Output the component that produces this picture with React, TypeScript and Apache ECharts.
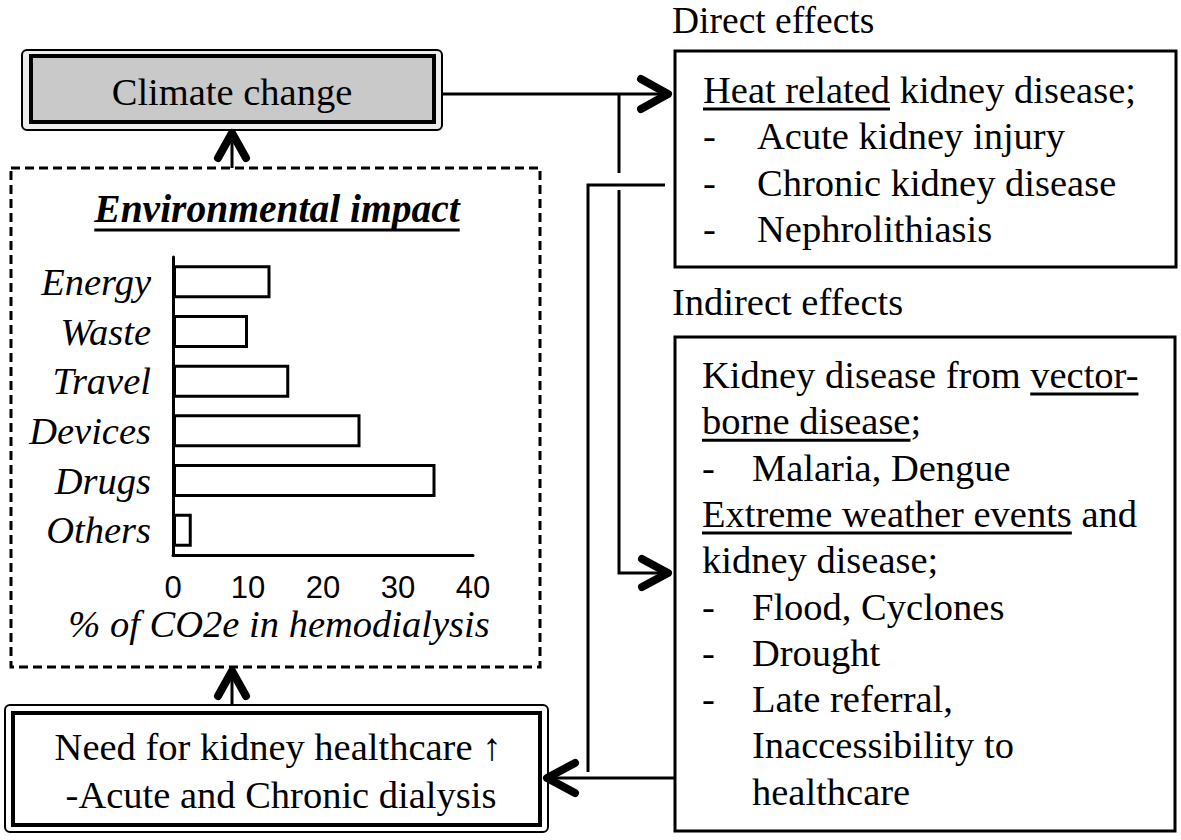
import React, { useEffect, useRef } from "react";
import * as echarts from "echarts";

// ---------- data ----------
const categories = ["Energy", "Waste", "Travel", "Devices", "Drugs", "Others"];
const co2Share = [13, 10, 15.5, 25, 35, 2.5];
const axisMin = 0;
const axisMax = 40;
const axisStep = 10;
const axisTitle = "% of CO2e in hemodialysis";
const panelTitle = "Environmental impact";
const climateLabel = "Climate change";
const needLines = ["Need for kidney healthcare \u2191", "-Acute and Chronic dialysis"];
const directTitle = "Direct effects";
const indirectTitle = "Indirect effects";
// each line: [segments ([text, underlined])], bullet flag, indent flag
type Seg = [string, boolean];
type Line = { segs: Seg[]; bullet?: boolean; indent?: boolean };
const directLines: Line[] = [
  { segs: [["Heat related", true], [" kidney disease;", false]] },
  { segs: [["Acute kidney injury", false]], bullet: true },
  { segs: [["Chronic kidney disease", false]], bullet: true },
  { segs: [["Nephrolithiasis", false]], bullet: true },
];
const indirectLines: Line[] = [
  { segs: [["Kidney disease from ", false], ["vector-", true]] },
  { segs: [["borne disease", true], [";", false]] },
  { segs: [["Malaria, Dengue", false]], bullet: true },
  { segs: [["Extreme weather events", true], [" and", false]] },
  { segs: [["kidney disease;", false]] },
  { segs: [["Flood, Cyclones", false]], bullet: true },
  { segs: [["Drought", false]], bullet: true },
  { segs: [["Late referral,", false]], bullet: true },
  { segs: [["Inaccessibility to", false]], indent: true },
  { segs: [["healthcare", false]], indent: true },
];

// ---------- helpers ----------
const SERIF = '"Liberation Serif", "Times New Roman", serif';
const SANS = '"Liberation Sans", Arial, sans-serif';
const FS = 38.5;
const MID = 0.3375;

let _ctx: CanvasRenderingContext2D | null = null;
function measure(text: string, size = FS, style = "normal", weight = "normal") {
  if (!_ctx) _ctx = document.createElement("canvas").getContext("2d");
  _ctx!.font = `${style} ${weight} ${size}px ${SERIF}`;
  return _ctx!.measureText(text).width;
}

function textEl(text: string, x: number, baseline: number, o: any = {}) {
  const size = o.size || FS;
  const style: any = {
    text,
    fill: "#000",
    fontSize: size,
    fontFamily: o.family || SERIF,
    fontStyle: o.style || "normal",
    fontWeight: o.weight || "normal",
    textAlign: o.align || "left",
    textVerticalAlign: "middle",
  };
  return { type: "text", x, y: baseline - MID * size, style };
}

function lineEl(points: number[][], w = 3) {
  return {
    type: "polyline",
    shape: { points },
    style: { stroke: "#000", lineWidth: w, fill: null, lineCap: "butt", lineJoin: "miter" },
  };
}

function chevron(points: number[][]) {
  return {
    type: "polyline",
    shape: { points },
    style: { stroke: "#000", lineWidth: 8, fill: null, lineCap: "round", lineJoin: "round" },
  };
}

function boxLines(lines: Line[], x0: number, bulletIndent: number, base0: number, step: number) {
  const els: any[] = [];
  lines.forEach((ln, i) => {
    const b = base0 + step * i;
    let x = ln.bullet || ln.indent ? x0 + bulletIndent : x0;
    if (ln.bullet) els.push(textEl("-", x0, b));
    ln.segs.forEach(([t, u]) => {
      const w = measure(t);
      els.push(textEl(t, x, b));
      if (u) els.push(lineEl([[x, b + 6], [x + w, b + 6]], 3));
      x += w;
    });
  });
  return els;
}

export default function App() {
  const ref = useRef<HTMLDivElement>(null);
  useEffect(() => {
    const chart = echarts.init(ref.current!, null, { renderer: "svg" });

    const titleSize = 39.5;
    const titleW = measure(panelTitle, titleSize, "italic", "bold");
    const graphic: any[] = [
      // Climate change box
      {
        type: "rect",
        shape: { x: 22, y: 50, width: 420, height: 80, r: 5 },
        style: { fill: "#ececec", stroke: "#000", lineWidth: 2 },
      },
      {
        type: "rect",
        shape: { x: 31, y: 56, width: 403, height: 66 },
        style: { fill: "#c9c9c9", stroke: "#000", lineWidth: 4 },
      },
      textEl(climateLabel, 232, 105, { align: "center" }),
      // Dashed panel
      {
        type: "rect",
        shape: { x: 11, y: 168, width: 529, height: 499 },
        style: { fill: null, stroke: "#000", lineWidth: 3, lineDash: [9, 5] },
      },
      textEl(panelTitle, 277, 222, { align: "center", style: "italic", weight: "bold", size: titleSize }),
      lineEl([[277 - titleW / 2, 230], [277 + titleW / 2, 230]], 3),
      textEl(axisTitle, 279, 637, { align: "center", style: "italic" }),
      // Need box
      {
        type: "rect",
        shape: { x: 5, y: 705, width: 543, height: 127, r: 5 },
        style: { fill: "#fff", stroke: "#000", lineWidth: 2 },
      },
      {
        type: "rect",
        shape: { x: 13, y: 713, width: 527, height: 112 },
        style: { fill: "#fff", stroke: "#000", lineWidth: 4 },
      },
      textEl(needLines[0], 278, 760, { align: "center" }),
      textEl(needLines[1], 281, 808, { align: "center" }),
      // Right boxes
      textEl(directTitle, 672, 33, { size: 37.5 }),
      {
        type: "rect",
        shape: { x: 675, y: 51, width: 501, height: 216 },
        style: { fill: null, stroke: "#000", lineWidth: 3 },
      },
      ...boxLines(directLines, 703, 54, 103, 46.3),
      textEl(indirectTitle, 672, 315),
      {
        type: "rect",
        shape: { x: 675, y: 337, width: 500, height: 494 },
        style: { fill: null, stroke: "#000", lineWidth: 3 },
      },
      ...boxLines(indirectLines, 702, 50, 388, 46.3),
      // arrows: up to climate change
      lineEl([[232, 168], [232, 136]], 3),
      chevron([[218, 158], [232, 133], [246, 158]]),
      // up to dashed panel
      lineEl([[232, 705], [232, 674]], 3),
      chevron([[218, 696], [232, 671], [246, 696]]),
      // climate -> direct
      lineEl([[442, 94], [668, 94]], 3),
      chevron([[641, 79], [668, 94], [641, 109]]),
      lineEl([[619, 94], [619, 173]], 3),
      // climate -> indirect
      lineEl([[619, 190], [619, 573], [668, 573]], 3),
      chevron([[642, 559], [668, 573], [642, 587]]),
      // direct -> need
      lineEl([[665, 185], [588, 185], [588, 772]], 3),
      // indirect -> need
      lineEl([[675, 778], [552, 778]], 3),
      chevron([[575, 763], [547, 778], [575, 793]]),
    ];

    chart.setOption({
      animation: false,
      backgroundColor: "#fff",
      grid: { left: 173, top: 257, width: 300, height: 298, containLabel: false },
      xAxis: {
        type: "value",
        min: axisMin,
        max: axisMax,
        interval: axisStep,
        axisLine: { show: true, lineStyle: { color: "#000", width: 3 } },
        axisTick: { show: false },
        splitLine: { show: false },
        axisLabel: { color: "#000", fontFamily: SANS, fontSize: 31, margin: 17 },
      },
      yAxis: {
        type: "category",
        data: categories,
        inverse: true,
        axisLine: { show: true, lineStyle: { color: "#000", width: 3 } },
        axisTick: { show: false },
        splitLine: { show: false },
        axisLabel: {
          interval: 0,
          hideOverlap: false,
          color: "#000",
          fontFamily: SERIF,
          fontStyle: "italic",
          fontSize: FS,
          margin: 22,
          padding: [0, 0, 10, 0],
        },
      },
      series: [
        {
          type: "bar",
          data: co2Share,
          barWidth: 33,
          itemStyle: { color: "#fff", borderColor: "#000", borderWidth: 3 },
          silent: true,
        },
      ],
      graphic,
    });
    return () => chart.dispose();
  }, []);
  return (
    <div
      ref={ref}
      style={{ position: "absolute", left: 0, top: 0, width: 1181, height: 840, background: "#fff" }}
    />
  );
}
